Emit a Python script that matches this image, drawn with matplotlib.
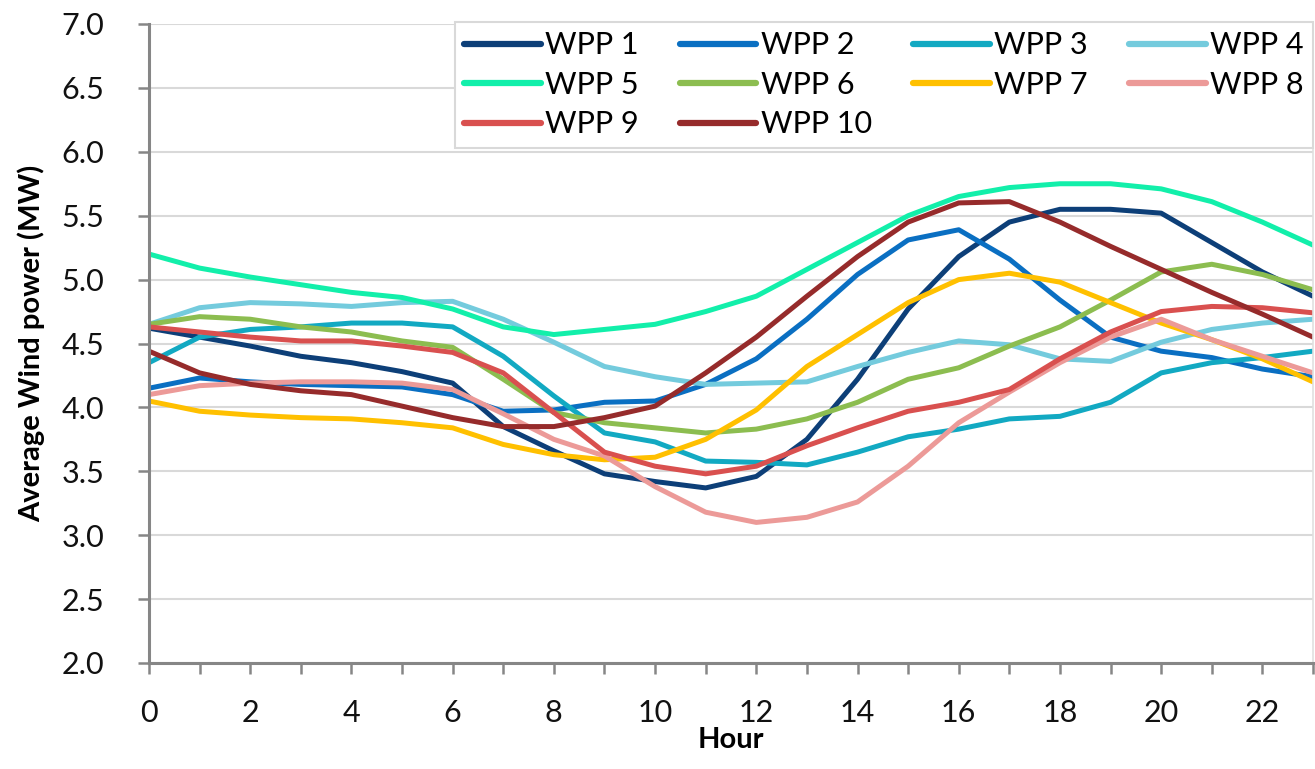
import matplotlib
matplotlib.use("Agg")
import matplotlib.pyplot as plt

plt.rcParams["font.family"] = ["Lato", "DejaVu Sans"]

hours = list(range(24))

wpp1 = [4.62, 4.55, 4.48, 4.40, 4.35, 4.28, 4.19, 3.85, 3.66, 3.48, 3.42, 3.37,
        3.46, 3.75, 4.22, 4.77, 5.18, 5.45, 5.55, 5.55, 5.52, 5.29, 5.06, 4.87]
wpp2 = [4.15, 4.23, 4.20, 4.18, 4.17, 4.16, 4.10, 3.97, 3.98, 4.04, 4.05, 4.18,
        4.38, 4.69, 5.04, 5.31, 5.39, 5.16, 4.84, 4.55, 4.44, 4.39, 4.30, 4.24]
wpp3 = [4.35, 4.55, 4.61, 4.63, 4.66, 4.66, 4.63, 4.40, 4.09, 3.80, 3.73, 3.58,
        3.57, 3.55, 3.65, 3.77, 3.83, 3.91, 3.93, 4.04, 4.27, 4.35, 4.39, 4.44]
wpp4 = [4.65, 4.78, 4.82, 4.81, 4.79, 4.82, 4.83, 4.69, 4.51, 4.32, 4.24, 4.18,
        4.19, 4.20, 4.32, 4.43, 4.52, 4.49, 4.38, 4.36, 4.51, 4.61, 4.66, 4.69]
wpp5 = [5.20, 5.09, 5.02, 4.96, 4.90, 4.86, 4.77, 4.63, 4.57, 4.61, 4.65, 4.75,
        4.87, 5.08, 5.29, 5.50, 5.65, 5.72, 5.75, 5.75, 5.71, 5.61, 5.45, 5.27]
wpp6 = [4.65, 4.71, 4.69, 4.63, 4.59, 4.52, 4.47, 4.22, 3.96, 3.88, 3.84, 3.80,
        3.83, 3.91, 4.04, 4.22, 4.31, 4.48, 4.63, 4.84, 5.06, 5.12, 5.04, 4.92]
wpp7 = [4.05, 3.97, 3.94, 3.92, 3.91, 3.88, 3.84, 3.71, 3.63, 3.59, 3.61, 3.75,
        3.98, 4.32, 4.57, 4.82, 5.00, 5.05, 4.98, 4.82, 4.66, 4.53, 4.38, 4.20]
wpp8 = [4.10, 4.17, 4.19, 4.20, 4.20, 4.19, 4.14, 3.95, 3.75, 3.62, 3.38, 3.18,
        3.10, 3.14, 3.26, 3.54, 3.88, 4.12, 4.35, 4.55, 4.69, 4.53, 4.40, 4.27]
wpp9 = [4.63, 4.59, 4.55, 4.52, 4.52, 4.48, 4.43, 4.27, 3.96, 3.65, 3.54, 3.48,
        3.54, 3.70, 3.84, 3.97, 4.04, 4.14, 4.38, 4.59, 4.75, 4.79, 4.78, 4.74]
wpp10 = [4.44, 4.27, 4.18, 4.13, 4.10, 4.01, 3.92, 3.85, 3.85, 3.92, 4.01, 4.27,
         4.55, 4.87, 5.18, 5.45, 5.60, 5.61, 5.45, 5.26, 5.08, 4.90, 4.73, 4.55]

series = [wpp1, wpp2, wpp3, wpp4, wpp5, wpp6, wpp7, wpp8, wpp9, wpp10]
names = [f"WPP {i}" for i in range(1, 11)]
colors = ["#0d3f78", "#0a6fc2", "#12a9c2", "#74cbdd", "#12efaa",
          "#8cbd50", "#ffc000", "#ec9a98", "#d9504f", "#962b2b"]

fig = plt.figure(figsize=(13.15, 7.69), dpi=100)
ax = fig.add_axes([149 / 1315, 1 - 663 / 769, (1313 - 149) / 1315, (663 - 24) / 769])

for ys, name, c in zip(series, names, colors):
    ax.plot(hours, ys, color=c, lw=3.6, label=name, solid_capstyle="round")

ax.set_xlim(0, 23)
ax.set_ylim(2.0, 7.0)
ax.set_xticks(hours)
ax.set_xticklabels([str(h) if h % 2 == 0 else "" for h in hours])
ax.set_yticks([2.0 + 0.5 * i for i in range(11)])
ax.set_yticklabels([f"{2.0 + 0.5 * i:.1f}" for i in range(11)])
ax.yaxis.grid(True, color="#d9d9d9", lw=1.5)
ax.set_axisbelow(True)

for s in ["left", "bottom"]:
    ax.spines[s].set_color("#868686")
    ax.spines[s].set_linewidth(2.2)
ax.spines["top"].set_visible(False)
ax.spines["right"].set_color("#e0e0e0")
ax.spines["right"].set_linewidth(1.2)

ax.tick_params(axis="both", colors="#868686", labelcolor="#111111", labelsize=22,
               length=8, width=1.8, direction="out")
ax.tick_params(axis="x", pad=18)
ax.tick_params(axis="y", pad=24)

ax.set_xlabel("Hour", fontsize=21, fontweight="bold", labelpad=0)
ax.set_ylabel("Average Wind power (MW)", fontsize=21, fontweight="bold", labelpad=12)

# legend filled row by row like the original
order = [0, 4, 8, 1, 5, 9, 2, 6, 3, 7]
handles, labels = ax.get_legend_handles_labels()
leg = ax.legend([handles[i] for i in order], [labels[i] for i in order],
                ncol=4, loc="upper right", bbox_to_anchor=(1.0, 1.003),
                borderaxespad=0, fontsize=22, handlelength=2.5, handletextpad=0.15,
                columnspacing=1.35, labelspacing=0.38, borderpad=0.3,
                fancybox=False, framealpha=1, edgecolor="#d9d9d9")
leg.get_frame().set_linewidth(1.5)
for h in leg.get_lines():
    h.set_linewidth(4.5)

fig.savefig("out.png", dpi=100)
